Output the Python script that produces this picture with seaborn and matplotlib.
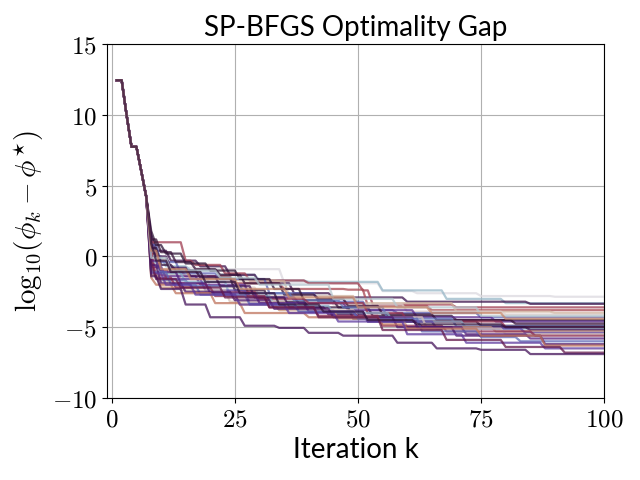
import numpy as np
import pandas as pd
import matplotlib
matplotlib.use("Agg")
import matplotlib.pyplot as plt
import seaborn as sns

# ---------------- data ----------------
iterations = list(range(1, 101))
# shared start (k = 1..7)
prefix = [(1, 12.45), (3, 10.0), (4, 7.75), (6, 6.0), (7, 4.2)]

# change points (iteration, value) – value held until the next change
s01 = [(8, 0.5), (10, -0.3), (12, -0.8), (20, -0.9), (35, -1.85), (45, -1.9), (55, -2.45), (62, -2.6), (75, -2.8), (90, -2.85)]
s02 = [(8, 0.0), (11, -0.7), (16, -1.0), (22, -1.3), (30, -1.7), (40, -1.8), (55, -2.4), (68, -3.0), (80, -3.3)]
s03 = [(8, 1.5), (9, 0.4), (12, -0.3), (18, -0.7), (24, -1.3), (30, -1.9), (37, -2.6), (45, -2.9), (60, -3.2), (85, -3.35)]
s04 = [(8, 1.0), (15, -0.3), (17, -0.6), (23, -1.2), (28, -1.7), (40, -1.9), (51, -2.4), (53, -3.4), (70, -3.6)]
s05 = [(8, 0.2), (10, -1.0), (15, -1.4), (25, -1.9), (35, -2.3), (48, -2.35), (52, -3.5), (65, -3.8)]
s06 = [(8, -0.5), (9, -1.2), (14, -1.6), (26, -1.7), (34, -1.75), (36, -2.8), (50, -3.3), (70, -3.9), (90, -4.0)]
s07 = [(8, -0.2), (12, -1.3), (20, -2.2), (30, -2.8), (45, -3.4), (60, -3.9), (80, -4.1)]
s08 = [(8, 0.8), (10, -0.4), (14, -1.2), (22, -1.6), (32, -2.6), (42, -3.2), (52, -3.8), (58, -4.0), (75, -4.3)]
s09 = [(8, 1.8), (9, 0.8), (11, 0.2), (15, -0.5), (20, -1.0), (26, -1.6), (33, -2.3), (39, -3.1), (46, -3.6), (53, -4.2), (70, -4.5)]
s10 = [(8, -0.8), (11, -1.4), (18, -2.0), (28, -2.9), (38, -3.3), (48, -3.8), (62, -4.3), (78, -4.6)]
s11 = [(8, 1.2), (10, 0.3), (13, -0.4), (17, -0.9), (22, -1.3), (27, -1.9), (35, -2.7), (42, -3.0), (48, -3.5), (55, -4.1), (66, -4.5), (82, -4.75)]
s12 = [(8, 0.6), (10, -0.6), (13, -1.0), (18, -1.5), (25, -2.4), (32, -3.2), (40, -3.6), (49, -4.4), (58, -4.6), (75, -4.9)]
s13 = [(8, -1.0), (10, -1.7), (16, -2.1), (27, -2.6), (37, -3.1), (47, -3.6), (56, -4.4), (70, -4.95)]
s14 = [(8, 0.3), (9, -1.3), (12, -1.9), (20, -2.5), (30, -3.0), (40, -3.3), (52, -4.0), (60, -4.6), (80, -5.0)]
s15 = [(8, -0.4), (10, -1.2), (15, -1.8), (24, -2.8), (33, -3.5), (45, -4.0), (57, -4.6), (72, -5.1)]
s16 = [(8, 1.0), (9, 0.0), (12, -0.8), (16, -1.4), (22, -2.1), (29, -2.9), (36, -3.6), (44, -4.1), (52, -4.6), (63, -5.0), (85, -5.2)]
s17 = [(8, -1.3), (10, -2.2), (17, -2.6), (26, -3.4), (34, -3.8), (46, -4.4), (60, -5.0), (78, -5.3)]
s18 = [(8, -0.7), (11, -1.6), (19, -2.4), (28, -3.3), (38, -3.9), (52, -4.6), (66, -5.1), (84, -5.4)]
s19 = [(8, -0.9), (10, -1.8), (14, -2.4), (24, -3.2), (36, -3.8), (50, -4.3), (64, -5.1), (80, -5.5)]
s20 = [(8, 0.0), (9, -1.5), (13, -2.2), (21, -2.8), (32, -3.6), (42, -4.2), (55, -4.9), (68, -5.3), (86, -5.6)]
s21 = [(8, -0.3), (10, -1.1), (14, -1.9), (20, -2.6), (30, -3.3), (40, -3.9), (50, -4.3), (62, -5.0), (72, -5.5), (85, -5.8)]
s22 = [(8, -1.1), (12, -2.0), (18, -2.7), (28, -3.4), (38, -3.9), (50, -4.4), (63, -5.3), (75, -5.7), (83, -6.0)]
s23 = [(8, -0.6), (10, -1.9), (15, -2.5), (25, -3.1), (33, -3.7), (45, -4.3), (58, -5.0), (70, -5.6), (88, -6.2)]
s24 = [(8, -1.5), (9, -2.0), (13, -2.6), (21, -3.3), (27, -4.0), (40, -4.3), (55, -4.8), (60, -5.1), (75, -5.6), (88, -6.3)]
s25 = [(8, -1.2), (11, -2.0), (17, -2.7), (26, -3.4), (36, -4.0), (46, -4.6), (60, -5.5), (72, -6.1), (88, -6.5)]
s26 = [(8, -0.5), (9, -1.6), (14, -2.2), (23, -2.9), (32, -3.6), (42, -4.3), (55, -5.2), (68, -5.9), (80, -6.4), (92, -6.8)]
s27 = [(8, -1.4), (10, -2.3), (15, -3.4), (20, -4.3), (27, -4.9), (34, -5.05), (40, -5.4), (47, -5.6), (58, -6.1), (66, -6.5), (75, -6.6), (85, -6.9)]
s28 = [(8, -0.1), (12, -1.0), (22, -1.5), (30, -2.0), (45, -3.0), (58, -3.6), (75, -4.2)]
s29 = [(8, 0.4), (10, -0.9), (16, -1.6), (26, -2.3), (36, -2.9), (50, -3.6), (65, -4.0), (80, -4.4)]
s30 = [(8, 0.9), (9, -0.3), (12, -1.1), (19, -1.8), (26, -2.6), (34, -3.4), (43, -3.9), (52, -4.5), (62, -4.8), (80, -5.0)]

runs = [s01, s02, s03, s04, s05, s06, s07, s08, s09, s10,
        s11, s12, s13, s14, s15, s16, s17, s18, s19, s20,
        s21, s22, s23, s24, s25, s26, s27, s28, s29, s30]

# colour positions on the twilight map (style)
cmap_pos = [0.02, 0.12, 0.46, 0.70, 0.72, 0.90, 0.95, 0.28, 0.50, 0.38,
            0.52, 0.49, 0.25, 0.68, 0.15, 0.45, 0.85, 0.33, 0.93, 0.66,
            0.40, 0.27, 0.42, 0.80, 0.35, 0.60, 0.44, 0.08, 0.83, 0.49]

rows = []
for i, run in enumerate(runs):
    pts = prefix + run
    for k in iterations:
        v = [val for (kk, val) in pts if kk <= k][-1]
        rows.append({"run": i, "k": k, "gap": v})
df = pd.DataFrame(rows)

# ---------------- plot ----------------
plt.rcParams["mathtext.fontset"] = "cm"
fig, ax = plt.subplots(figsize=(6.4, 4.8), dpi=100)
fig.subplots_adjust(left=0.167, right=0.944, bottom=0.171, top=0.908)

cmap = matplotlib.colormaps["twilight"]
palette = [cmap(p) for p in cmap_pos]

sns.lineplot(data=df, x="k", y="gap", hue="run", palette=palette,
             legend=False, ax=ax, linewidth=1.6, alpha=0.75, estimator=None)

ax.set_xlim(-1, 100)
ax.set_ylim(-10, 15)
ax.set_xticks([0, 25, 50, 75, 100])
ax.set_yticks([-10, -5, 0, 5, 10, 15])
ax.xaxis.set_major_formatter(matplotlib.ticker.FuncFormatter(lambda v, p: r"$%d$" % v))
ax.yaxis.set_major_formatter(matplotlib.ticker.FuncFormatter(lambda v, p: r"$%d$" % v))
ax.tick_params(labelsize=18)
ax.grid(True, color="#b0b0b0", linewidth=0.8)
ax.set_axisbelow(True)

ax.set_title("SP-BFGS Optimality Gap", fontsize=20, family="Lato")
ax.set_xlabel("Iteration k", fontsize=20, family="Lato")
ax.set_ylabel(r"$\mathrm{log}_{10}(\phi_k - \phi^{\star})$", fontsize=21)

fig.savefig("out.png", dpi=100)
